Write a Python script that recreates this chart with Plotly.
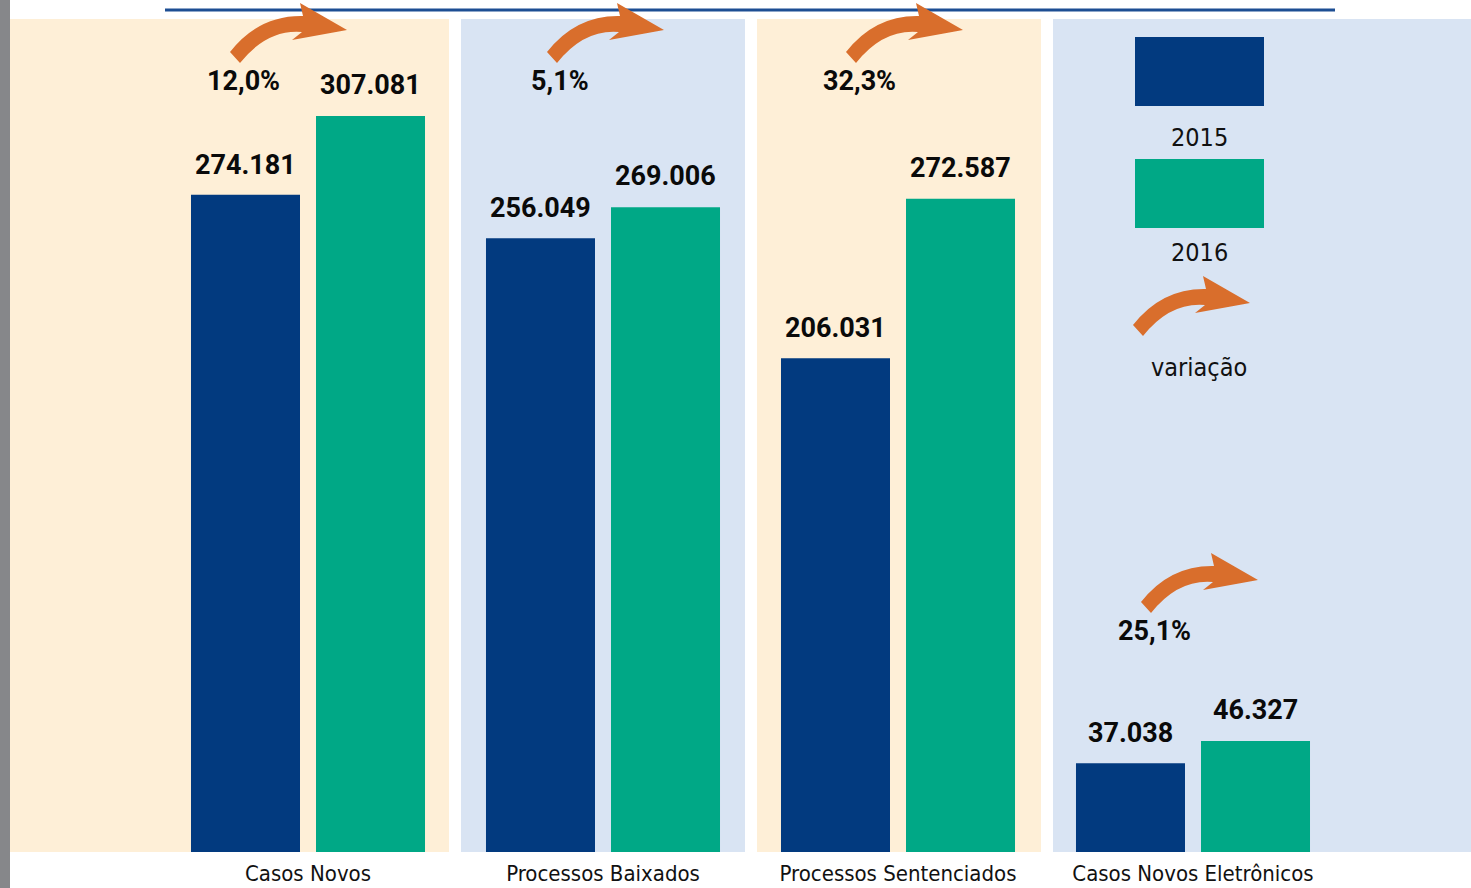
import plotly.graph_objects as go

# dados
categorias = ["Casos Novos", "Processos Baixados", "Processos Sentenciados", "Casos Novos Eletrônicos"]
valores_2015 = [274181, 256049, 206031, 37038]
valores_2016 = [307081, 269006, 272587, 46327]
variacao = ["12,0%", "5,1%", "32,3%", "25,1%"]
rotulos_2015 = ["274.181", "256.049", "206.031", "37.038"]
rotulos_2016 = ["307.081", "269.006", "272.587", "46.327"]

AZUL = "#023A7F"
VERDE = "#00A886"
CREME = "#FEEFD7"
AZUL_CLARO = "#D9E4F3"
LARANJA = "#D96E2C"

W, H = 1471, 888
BASE = 852  # linha de base das barras (px)

def px_x(x):
    return x / W

def px_y(y):
    return (BASE - y) / BASE

# seta curva, coordenadas em px relativas à ponta (y para cima)
SETA = "M -117,-22 Q -88,15 -44,14 L -47,27 L 0,0 L -55,-10 L -45,-2 Q -80,1 -107,-33 Z"
pontas = [(347, 30), (664, 30), (963, 30), (1258, 580)]

fig = go.Figure()
fig.add_trace(go.Bar(x=categorias, y=valores_2015, name="2015", marker_color=AZUL,
                     marker_line_width=0, hoverinfo="skip"))
fig.add_trace(go.Bar(x=categorias, y=valores_2016, name="2016", marker_color=VERDE,
                     marker_line_width=0, hoverinfo="skip"))

shapes = []
# faixa cinza à esquerda
shapes.append(dict(type="rect", xref="paper", yref="paper", x0=0, x1=px_x(10),
                   y0=-36 / BASE, y1=1, fillcolor="#86878A", line_width=0, layer="below"))
# painéis de fundo
paineis = [(10, 449, CREME), (461, 745, AZUL_CLARO), (757, 1041, CREME), (1053, 1471, AZUL_CLARO)]
for x0, x1, cor in paineis:
    shapes.append(dict(type="rect", xref="paper", yref="paper", x0=px_x(x0), x1=px_x(x1),
                       y0=0, y1=px_y(19), fillcolor=cor, line_width=0, layer="below"))
# linha azul no topo
shapes.append(dict(type="line", xref="paper", yref="paper", x0=px_x(165), x1=px_x(1335),
                   y0=px_y(10), y1=px_y(10), line=dict(color="#1D4E93", width=3)))
# setas
for tx, ty in pontas + [(1250, 303)]:
    shapes.append(dict(type="path", xref="paper", yref="paper", xsizemode="pixel",
                       ysizemode="pixel", xanchor=px_x(tx), yanchor=px_y(ty),
                       path=SETA, fillcolor=LARANJA, line_width=0))
# legenda
shapes.append(dict(type="rect", xref="paper", yref="paper", x0=px_x(1135), x1=px_x(1264),
                   y0=px_y(106), y1=px_y(37), fillcolor=AZUL, line_width=0))
shapes.append(dict(type="rect", xref="paper", yref="paper", x0=px_x(1135), x1=px_x(1264),
                   y0=px_y(228), y1=px_y(159), fillcolor=VERDE, line_width=0))

fonte_num = dict(family="Roboto, Arial, sans-serif", size=27, color="#0A0A0A", weight="bold")
fonte_txt = dict(family="DejaVu Sans Condensed, Roboto, sans-serif", size=25, color="#111111")
fonte_eixo = dict(family="DejaVu Sans Condensed, Roboto, sans-serif", size=22, color="#111111")

annotations = []
for i, cat in enumerate(categorias):
    annotations.append(dict(x=cat, y=valores_2015[i], xref="x", yref="y", text=rotulos_2015[i],
                            showarrow=False, xshift=-62.5, yshift=30, font=fonte_num,
                            xanchor="center", yanchor="middle"))
    annotations.append(dict(x=cat, y=valores_2016[i], xref="x", yref="y", text=rotulos_2016[i],
                            showarrow=False, xshift=62.5, yshift=31, font=fonte_num,
                            xanchor="center", yanchor="middle"))
    tx, ty = pontas[i]
    annotations.append(dict(x=px_x(tx - 104), y=px_y(ty + 51), xref="paper", yref="paper",
                            text=variacao[i], showarrow=False, font=fonte_num,
                            xanchor="center", yanchor="middle"))

for txt, y in [("2015", 137), ("2016", 252), ("variação", 367)]:
    annotations.append(dict(x=px_x(1199), y=px_y(y), xref="paper", yref="paper", text=txt,
                            showarrow=False, font=fonte_txt, xanchor="center", yanchor="middle"))

cat_pos = 308 / 295
fig.update_layout(
    width=W, height=H,
    margin=dict(l=0, r=0, t=0, b=H - BASE),
    paper_bgcolor="white", plot_bgcolor="rgba(0,0,0,0)",
    barmode="group", bargap=0.1525, bargroupgap=0.128,
    showlegend=False,
    shapes=shapes, annotations=annotations,
    xaxis=dict(range=[-cat_pos, (W - 308) / 295], showgrid=False, zeroline=False,
               showline=False, ticks="", tickfont=fonte_eixo, ticklabelstandoff=6,
               fixedrange=True),
    yaxis=dict(range=[0, BASE / 0.0023968], visible=False, fixedrange=True),
)

fig.write_html("out.html", config={"displayModeBar": False},
               post_script="document.body.style.margin='0';")
